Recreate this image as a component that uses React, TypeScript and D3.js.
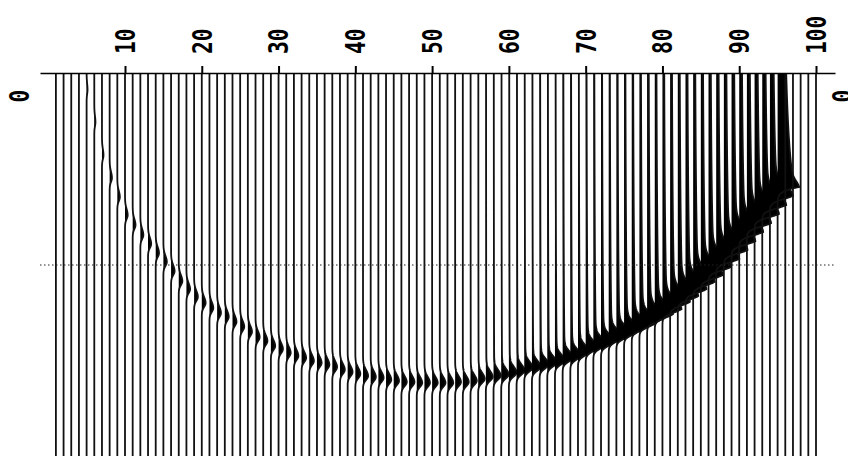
import React, { useEffect, useRef } from "react";
import * as d3 from "d3";

// trace numbers along the top axis
const traceNums: number[] = d3.range(1, 101);
const tickValues = [10, 20, 30, 40, 50, 60, 70, 80, 90, 100];

// arrival (peak) time of the pulse on each trace, ms
const arrivalMs = [
  0, 0, 0, 0, 44, 128, 214, 273, 323, 370,
  396, 422, 445, 469, 492, 516, 542, 563, 583, 599,
  612, 625, 635, 648, 661, 674, 688, 698, 711, 719,
  729, 737, 742, 750, 755, 760, 766, 773, 779, 784,
  789, 792, 794, 799, 802, 805, 805, 807, 807, 807,
  807, 807, 805, 805, 802, 797, 792, 789, 786, 781,
  776, 768, 766, 760, 755, 750, 742, 737, 727, 716,
  708, 701, 690, 682, 672, 661, 651, 638, 628, 615,
  596, 581, 563, 544, 526, 505, 484, 461, 438, 414,
  391, 367, 344, 320, 297, 0, 0, 0, 0, 0,
];

// peak amplitude, in trace spacings
const peakAmp = [
  0, 0, 0, 0, 0.12, 0.15, 0.2, 0.3, 0.33, 0.35,
  0.37, 0.39, 0.41, 0.43, 0.45, 0.46, 0.47, 0.48, 0.49, 0.5,
  0.5, 0.5, 0.51, 0.52, 0.53, 0.54, 0.54, 0.55, 0.56, 0.57,
  0.58, 0.58, 0.59, 0.6, 0.61, 0.62, 0.62, 0.63, 0.64, 0.65,
  0.66, 0.67, 0.68, 0.68, 0.69, 0.7, 0.7, 0.71, 0.72, 0.73,
  0.74, 0.75, 0.76, 0.77, 0.78, 0.8, 0.82, 0.84, 0.86, 0.88,
  0.9, 0.93, 0.96, 0.99, 1.02, 1.05, 1.08, 1.11, 1.15, 1.2,
  1.25, 1.3, 1.36, 1.42, 1.48, 1.55, 1.62, 1.7, 1.78, 1.86,
  1.94, 2.0, 2.05, 2.1, 2.15, 2.2, 2.25, 2.3, 2.3, 2.3,
  2.3, 2.3, 2.2, 2.0, 0.6, 0, 0, 0, 0, 0,
];

// slow pre-arrival tail level, in trace spacings
const tailAmp = [
  0, 0, 0, 0, 0, 0, 0, 0, 0, 0,
  0, 0, 0, 0, 0, 0, 0, 0, 0, 0,
  0, 0, 0, 0, 0, 0, 0, 0, 0, 0,
  0, 0, 0, 0, 0, 0, 0, 0, 0, 0,
  0, 0, 0, 0, 0, 0, 0, 0, 0, 0,
  0, 0, 0, 0, 0.04, 0.06, 0.08, 0.1, 0.12, 0.14,
  0.16, 0.18, 0.2, 0.22, 0.24, 0.26, 0.28, 0.3, 0.32, 0.34,
  0.37, 0.4, 0.43, 0.46, 0.49, 0.52, 0.55, 0.58, 0.6, 0.62,
  0.64, 0.66, 0.68, 0.7, 0.72, 0.74, 0.76, 0.78, 0.8, 0.82,
  0.85, 0.88, 0.92, 1.0, 2.2, 0, 0, 0, 0, 0,
];

const timeSamples: number[] = d3.range(0, 1001, 1);

const App = () => {
  const ref = useRef<SVGSVGElement>(null);

  useEffect(() => {
    const svg = d3.select(ref.current);
    svg.selectAll("*").remove();

    const x = d3.scaleLinear().domain([10, 100]).range([125, 816]);
    const y = d3.scaleLinear().domain([0, 1000]).range([73, 457]);
    const spacing = x(1) - x(0);

    // pulse shape: d = px from the peak (negative = earlier); bigger pulses rise longer
    const pulse = (d: number, a: number, tl: number) => {
      if (d <= 0) {
        const ad = -d;
        const s = 6 + 4 * Math.max(0, a - 1);
        return a * Math.exp(-(ad * ad) / (2 * s * s)) + tl * Math.sqrt(40 / (40 + ad));
      }
      return a * Math.exp(-(d * d) / 32) + tl * Math.exp(-d / 3);
    };

    const g = svg.append("g");

    traceNums.forEach((n, i) => {
      const base = x(n);
      const a = peakAmp[i];
      const tl = tailAmp[i];
      const t0 = arrivalMs[i];
      const live = a > 0 || tl > 0;
      const off = (t: number) => (live ? pulse(y(t) - y(t0), a, tl) * spacing : 0);

      if (live) {
        const area = d3.area<number>()
          .x0(base)
          .x1(t => base + off(t))
          .y(t => y(t));
        g.append("path")
          .attr("d", area(timeSamples))
          .attr("fill", "#000");
      }

      const line = d3.line<number>()
        .x(t => base + off(t))
        .y(t => y(t));
      g.append("path")
        .attr("d", line(timeSamples))
        .attr("fill", "none")
        .attr("stroke", "#111")
        .attr("stroke-width", 1.8);
    });

    // dotted time marker
    svg.append("line")
      .attr("x1", 40)
      .attr("x2", 835)
      .attr("y1", y(500))
      .attr("y2", y(500))
      .attr("stroke", "#222")
      .attr("stroke-width", 1)
      .attr("stroke-dasharray", "1.5,2.5");

    // top axis
    const axisScale = x.copy().domain([x.invert(40), x.invert(835)]).range([40, 835]);
    const axis = svg.append("g")
      .attr("transform", `translate(0,${y(0)})`)
      .call(d3.axisTop(axisScale).tickValues(tickValues).tickSize(7).tickSizeOuter(0));

    axis.select(".domain").attr("stroke", "#000").attr("stroke-width", 1.5);
    axis.selectAll(".tick line").attr("stroke", "#000").attr("stroke-width", 2);
    axis.selectAll<SVGTextElement, number>(".tick text")
      .attr("transform", "rotate(-90)")
      .attr("x", 19)
      .attr("y", 0)
      .attr("dy", "0.36em")
      .attr("text-anchor", "start")
      .attr("font-family", "DejaVu Sans Mono")
      .attr("font-weight", "bold")
      .attr("font-size", 26)
      .attr("fill", "#000")
      .attr("textLength", d => String(d).length * 12.8)
      .attr("lengthAdjust", "spacingAndGlyphs");

    // zero labels at both ends
    [20, 843].forEach(lx => {
      svg.append("text")
        .attr("transform", `translate(${lx},96) rotate(-90)`)
        .attr("text-anchor", "middle")
        .attr("dy", "0.36em")
        .attr("font-family", "DejaVu Sans Mono")
        .attr("font-weight", "bold")
        .attr("font-size", 26)
        .attr("textLength", 12.8)
        .attr("lengthAdjust", "spacingAndGlyphs")
        .text("0");
    });
  }, []);

  return (
    <svg
      ref={ref}
      width={848}
      height={456}
      style={{ position: "absolute", left: 0, top: 0, background: "#fff" }}
    />
  );
};

export default App;
